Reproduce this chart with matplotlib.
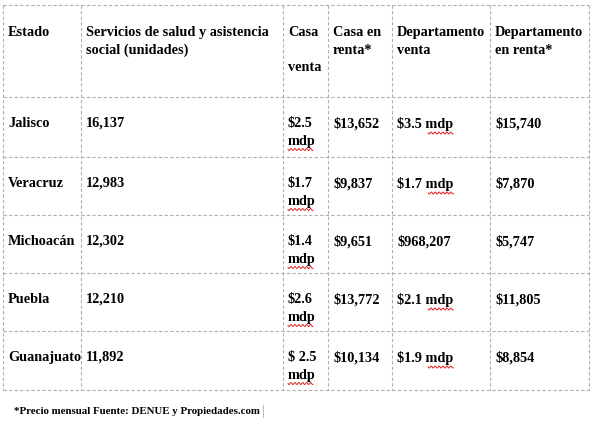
import numpy as np
import matplotlib.pyplot as plt

headers = ["Estado", "Servicios de salud y asistencia\nsocial (unidades)", "Casa\n\nventa",
           "Casa en\nrenta*", "Departamento\nventa", "Departamento\nen renta*"]
estados = ["Jalisco", "Veracruz", "Michoacán", "Puebla", "Guanajuato"]
servicios = ["16,137", "12,983", "12,302", "12,210", "11,892"]
casa_venta = ["$2.5\nmdp", "$1.7\nmdp", "$1.4\nmdp", "$2.6\nmdp", "$ 2.5\nmdp"]
casa_renta = ["$13,652", "$9,837", "$9,651", "$13,772", "$10,134"]
depto_venta = ["$3.5 mdp", "$1.7 mdp", "$968,207", "$2.1 mdp", "$1.9 mdp"]
depto_renta = ["$15,740", "$7,870", "$5,747", "$11,805", "$8,854"]
nota = "*Precio mensual Fuente: DENUE y Propiedades.com"

col_x = [3, 81, 283, 328, 392, 490, 589]
row_y = [5, 97, 157, 215, 273, 331, 390]

fig = plt.figure(figsize=(5.94, 4.25), dpi=100)
ax = fig.add_axes([0, 0, 1, 1])
ax.set_xlim(0, 594)
ax.set_ylim(425, 0)
ax.axis("off")

border = dict(color="#b0b0b0", lw=0.8, ls=(0, (3, 2)))
for x in col_x:
    ax.plot([x, x], [row_y[0], row_y[-1]], **border)
for y in row_y:
    ax.plot([col_x[0], col_x[-1]], [y, y], **border)

font = dict(family="Liberation Serif", fontweight="bold", fontsize=10.3,
            va="top", ha="left", linespacing=1.45, color="black")

rows = [headers] + [list(r) for r in zip(estados, servicios, casa_venta,
                                         casa_renta, depto_venta, depto_renta)]
fig.canvas.draw()
renderer = fig.canvas.get_renderer()
inv = ax.transData.inverted()
for i, row in enumerate(rows):
    ytop = row_y[i] + (21 if i == 0 else 20)
    for j, txt in enumerate(row):
        t = ax.text(col_x[j] + 5, ytop, txt, **font)
        if i > 0 and "mdp" in txt:
            # red spell-check squiggle under "mdp"
            bb = t.get_window_extent(renderer)
            (x0, y0), (x1, y1) = inv.transform([[bb.x0, bb.y0], [bb.x1, bb.y1]])
            if "\n" in txt:
                xs, xe = col_x[j] + 5, col_x[j] + 5 + 25
            else:
                xe = x1
                xs = xe - 25
            yb = y0 + 2
            xx = np.linspace(xs, xe, 60)
            ax.plot(xx, yb + 1.0 * np.sin((xx - xs) * 1.6), color="#e02020", lw=0.7)

ax.text(14, 411, nota, family="Liberation Serif", fontweight="bold",
        fontsize=7.8, va="center", ha="left")
ax.plot([263, 263], [405, 417], color="#b0b0b0", lw=0.6)

fig.savefig("out.png", dpi=100)
